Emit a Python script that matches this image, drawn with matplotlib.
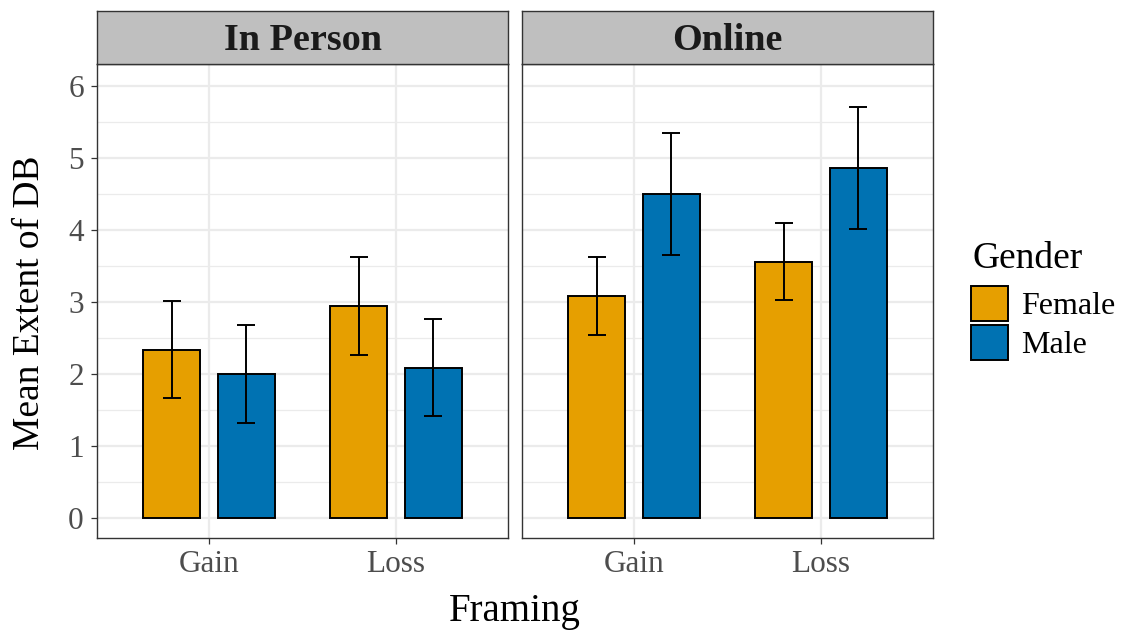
import matplotlib
matplotlib.use("Agg")
import matplotlib.pyplot as plt
import numpy as np
from matplotlib.patches import Patch

plt.rcParams['font.family'] = ['Liberation Serif', 'DejaVu Serif']

panels = ["In Person", "Online"]
framing = ["Gain", "Loss"]
genders = ["Female", "Male"]
colors = {"Female": "#E69F00", "Male": "#0072B2"}

# means[panel][gender] over framing
means = {
    "In Person": {"Female": [2.33, 2.95], "Male": [2.00, 2.09]},
    "Online": {"Female": [3.08, 3.56], "Male": [4.50, 4.87]},
}
lower = {
    "In Person": {"Female": [1.66, 2.27], "Male": [1.32, 1.41]},
    "Online": {"Female": [2.54, 3.03], "Male": [3.65, 4.01]},
}
upper = {
    "In Person": {"Female": [3.01, 3.62], "Male": [2.68, 2.77]},
    "Online": {"Female": [3.62, 4.10], "Male": [5.35, 5.71]},
}

fig = plt.figure(figsize=(11.22, 6.35), dpi=100)
W, H = 1122, 635
panel_lefts = [97, 522]
pw = 411
ptop, pbot = 64, 538
strip_top = 11

bar_w = 0.305
offsets = {"Female": -0.2, "Male": 0.2}
grey_border = "#333333"

axes = []
for i, p in enumerate(panels):
    ax = fig.add_axes([panel_lefts[i] / W, 1 - pbot / H, pw / W, (pbot - ptop) / H])
    axes.append(ax)
    x = np.arange(len(framing))
    for g in genders:
        xs = x + offsets[g]
        m = np.array(means[p][g])
        lo = np.array(lower[p][g])
        hi = np.array(upper[p][g])
        ax.bar(xs, m, width=bar_w, color=colors[g], edgecolor="black", linewidth=1.4, zorder=3)
        ax.errorbar(xs, m, yerr=[m - lo, hi - m], fmt="none", ecolor="black",
                    elinewidth=1.4, capsize=6.4, capthick=1.4, zorder=4)
    ax.set_xlim(-0.6, 1.6)
    ax.set_ylim(-0.28, 6.31)
    ax.set_xticks(x)
    ax.set_xticklabels(framing)
    ax.set_yticks(range(0, 7))
    ax.set_yticks(np.arange(0.5, 6.5, 1.0), minor=True)
    ax.grid(True, which="major", color="#EBEBEB", linewidth=1.6, zorder=0)
    ax.grid(True, which="minor", axis="y", color="#EBEBEB", linewidth=0.9, zorder=0)
    ax.set_axisbelow(True)
    for s in ax.spines.values():
        s.set_color(grey_border)
        s.set_linewidth(1.0)
    ax.tick_params(axis="both", which="major", labelsize=22.5, labelcolor="#4D4D4D",
                   color="#333333", length=4, width=0.9)
    ax.tick_params(axis="x", which="major", pad=4.5)
    ax.tick_params(axis="y", which="major", pad=5.5)
    ax.tick_params(axis="both", which="minor", length=0)
    if i == 1:
        ax.tick_params(axis="y", labelleft=False, length=0)
    # strip
    sax = fig.add_axes([panel_lefts[i] / W, 1 - ptop / H, pw / W, (ptop - strip_top) / H])
    sax.set_facecolor("#BFBFBF")
    sax.set_xticks([])
    sax.set_yticks([])
    for s in sax.spines.values():
        s.set_color(grey_border)
        s.set_linewidth(1.0)
    sax.text(0.5, 0.44, p, ha="center", va="center", fontsize=27.5, fontweight="bold",
             color="#1A1A1A", transform=sax.transAxes)

fig.text(515 / W, 1 - 612 / H, "Framing", ha="center", va="center", fontsize=28)
fig.text(30 / W, 1 - 303 / H, "Mean Extent of DB", ha="center", va="center",
         fontsize=27, rotation=90)

# legend
fig.text(972 / W, 1 - 259 / H, "Gender", ha="left", va="center", fontsize=27)
handles = [Patch(facecolor=colors[g], edgecolor="black", linewidth=1.4) for g in genders]
leg = fig.legend(handles, genders, loc="upper left",
                 bbox_to_anchor=(971 / W, 1 - 286 / H), frameon=False,
                 fontsize=23, handlelength=1.17, handleheight=1.3,
                 labelspacing=0.12, handletextpad=0.4,
                 borderaxespad=0, borderpad=0)

fig.savefig("out.png", dpi=100)
